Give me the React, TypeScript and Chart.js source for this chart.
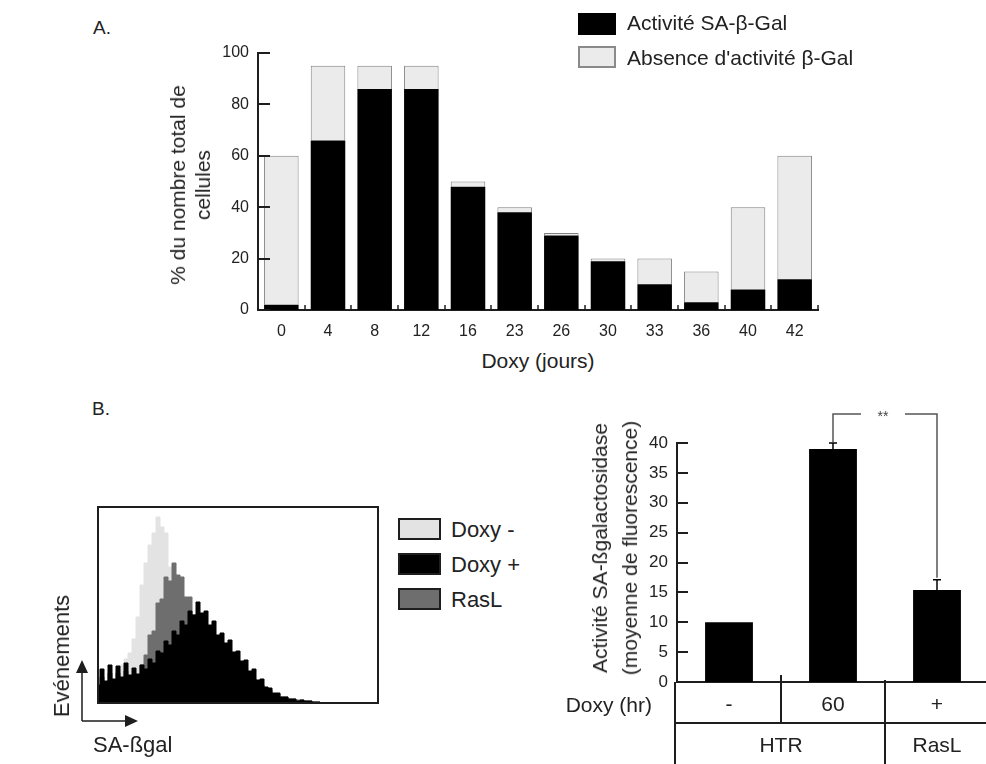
import React, { useEffect, useRef } from "react";
import { Chart, registerables } from "chart.js";
Chart.register(...registerables);

const FONT = "'Liberation Sans', Arial, Helvetica, sans-serif";
const INK = "#1e1e1e";

// ---------- Panel A data ----------
const dayLabels = ["0", "4", "8", "12", "16", "23", "26", "30", "33", "36", "40", "42"];
const activeSA = [2, 66, 86, 86, 48, 38, 29, 19, 10, 3, 8, 12];
const absenceSA = [58, 29, 9, 9, 2, 2, 1, 1, 10, 12, 32, 48];
const yTicksA = [0, 20, 40, 60, 80, 100];

// ---------- Panel B histogram data (channel, events) ----------
const channels = [
  0, 4, 8, 12, 16, 20, 24, 28, 32, 36, 40, 44, 48, 52, 56, 60, 64, 68, 72, 76,
  80, 84, 88, 92, 96, 100, 104, 108, 112, 116, 120, 124, 128, 132, 136, 140, 144, 148, 152, 156,
  160, 164, 168, 172, 176, 180, 184, 188, 192, 196, 200, 204, 208, 212, 216, 220, 224, 228, 232, 236,
  240, 244, 248, 252, 256, 260, 264, 268, 272, 276, 280,
];
const doxyPlus = [
  18, 34, 22, 38, 24, 37, 26, 40, 28, 35, 29, 38, 34, 44, 40, 52, 50, 62, 58, 72,
  68, 82, 78, 92, 88, 101, 90, 92, 78, 82, 68, 70, 60, 63, 51, 52, 42, 43, 32, 34,
  23, 24, 16, 15, 10, 10, 6, 6, 4, 4, 2, 3, 2, 2, 1, 1, 0, 0, 0, 0,
  0, 0, 0, 0, 0, 0, 0, 0, 0, 0, 0,
];
const rasL = [
  14, 26, 18, 30, 20, 30, 22, 32, 24, 28, 28, 38, 48, 68, 72, 100, 104, 126, 122, 140,
  128, 126, 106, 106, 88, 86, 76, 76, 64, 64, 54, 54, 46, 46, 38, 38, 30, 30, 24, 24,
  18, 18, 13, 13, 9, 9, 6, 6, 4, 4, 3, 3, 2, 2, 1, 1, 0, 0, 0, 0,
  0, 0, 0, 0, 0, 0, 0, 0, 0, 0, 0,
];
const doxyMinus = [
  12, 20, 16, 26, 22, 34, 38, 44, 50, 64, 86, 118, 140, 158, 170, 186, 176, 170, 136, 114,
  86, 66, 52, 44, 38, 34, 30, 28, 26, 24, 22, 20, 18, 16, 14, 12, 10, 9, 8, 7,
  6, 5, 4, 3, 2, 2, 1, 1, 1, 0, 0, 0, 0, 0, 0, 0, 0, 0, 0, 0,
  0, 0, 0, 0, 0, 0, 0, 0, 0, 0, 0,
];

// ---------- Panel B bar data ----------
const doxyHr = ["-", "60", "+"];
const meanFluo = [10, 39, 15.4];
const errFluo = [0, 1, 1.7];
const groupNames = ["HTR", "RasL"];
const groupSpans = [2, 1];
const yTicksB = [0, 5, 10, 15, 20, 25, 30, 35, 40];

const pts = (arr: number[]) => channels.map((c, i) => ({ x: c, y: arr[i] }));

export default function App() {
  const refA = useRef<HTMLCanvasElement>(null);
  const refH = useRef<HTMLCanvasElement>(null);
  const refB = useRef<HTMLCanvasElement>(null);

  useEffect(() => {
    const tickFont = (size: number) => ({ family: FONT, size });

    // ----- Panel A -----
    const ticksA = {
      id: "ticksA",
      afterDraw(chart: any) {
        const { ctx, chartArea, scales } = chart;
        const x = scales.x, y = scales.y;
        ctx.save();
        ctx.strokeStyle = INK;
        ctx.lineWidth = 2;
        yTicksA.forEach((v) => {
          const py = Math.round(y.getPixelForValue(v));
          ctx.beginPath();
          ctx.moveTo(chartArea.left, py);
          ctx.lineTo(chartArea.left + 12, py);
          ctx.stroke();
        });
        ctx.lineWidth = 1.5;
        for (let i = 0; i <= dayLabels.length; i++) {
          const px = Math.round(x.getPixelForValue(i - 0.5));
          ctx.beginPath();
          ctx.moveTo(px, chartArea.bottom);
          ctx.lineTo(px, chartArea.bottom - 5);
          ctx.stroke();
        }
        ctx.restore();
      },
    };
    const cA = new Chart(refA.current as HTMLCanvasElement, {
      type: "bar",
      data: {
        labels: dayLabels,
        datasets: [
          { label: "Activité SA-β-Gal", data: activeSA, backgroundColor: "#000", borderWidth: 0, barPercentage: 0.74, categoryPercentage: 1 },
          { label: "Absence d'activité β-Gal", data: absenceSA, backgroundColor: "#ebebeb", borderColor: "#808080", borderWidth: 1, barPercentage: 0.74, categoryPercentage: 1 },
        ],
      },
      options: {
        responsive: false,
        animation: false,
        layout: { padding: { top: 53, right: 32, left: 0, bottom: 0 } },
        plugins: { legend: { display: false }, tooltip: { enabled: false } },
        scales: {
          x: {
            stacked: true,
            grid: { display: false, drawTicks: false },
            border: { display: true, color: INK, width: 2 },
            ticks: { font: tickFont(16), color: "#222", padding: 12 },
            afterFit: (s: any) => { s.height = 35; },
          },
          y: {
            stacked: true,
            min: 0,
            max: 100,
            grid: { display: false, drawTicks: false },
            border: { display: true, color: INK, width: 2 },
            ticks: { stepSize: 20, font: tickFont(16), color: "#222", padding: 9 },
            afterFit: (s: any) => { s.width = 108; },
          },
        },
      } as any,
      plugins: [ticksA],
    });

    // ----- Panel B histogram -----
    const frameH = {
      id: "frameH",
      afterDraw(chart: any) {
        const { ctx, chartArea: a } = chart;
        ctx.save();
        ctx.strokeStyle = INK;
        ctx.lineWidth = 2;
        ctx.strokeRect(a.left, a.top, a.right - a.left, a.bottom - a.top);
        // axis arrows
        const ax = a.left - 16, ay = a.bottom + 18;
        ctx.lineWidth = 1.5;
        ctx.beginPath();
        ctx.moveTo(ax, ay);
        ctx.lineTo(ax, a.bottom - 38);
        ctx.moveTo(ax, ay);
        ctx.lineTo(a.left + 34, ay);
        ctx.stroke();
        ctx.fillStyle = INK;
        ctx.beginPath();
        ctx.moveTo(ax, a.bottom - 43);
        ctx.lineTo(ax - 6, a.bottom - 30);
        ctx.lineTo(ax + 6, a.bottom - 30);
        ctx.closePath();
        ctx.fill();
        ctx.beginPath();
        ctx.moveTo(a.left + 40, ay);
        ctx.lineTo(a.left + 27, ay - 6);
        ctx.lineTo(a.left + 27, ay + 6);
        ctx.closePath();
        ctx.fill();
        ctx.restore();
      },
    };
    const lineDs = (label: string, arr: number[], color: string, order: number) => ({
      label,
      data: pts(arr),
      borderColor: color,
      backgroundColor: color,
      borderWidth: 1,
      pointRadius: 0,
      fill: "origin",
      stepped: "middle",
      order,
    });
    const cH = new Chart(refH.current as HTMLCanvasElement, {
      type: "line",
      data: {
        datasets: [
          lineDs("Doxy +", doxyPlus, "#000000", 1),
          lineDs("RasL", rasL, "#6e6e6e", 2),
          lineDs("Doxy -", doxyMinus, "#e3e3e3", 3),
        ],
      },
      options: {
        responsive: false,
        animation: false,
        layout: { padding: { left: 48, right: 17, top: 7, bottom: 61 } },
        plugins: { legend: { display: false }, tooltip: { enabled: false } },
        scales: {
          x: { type: "linear", min: 0, max: 280, display: false },
          y: { min: 0, max: 196, display: false },
        },
      } as any,
      plugins: [frameH],
    });

    // ----- Panel B bars -----
    const extrasB = {
      id: "extrasB",
      afterDraw(chart: any) {
        const { ctx, chartArea: a, scales, height } = chart;
        const x = scales.x, y = scales.y;
        ctx.save();
        ctx.strokeStyle = INK;
        ctx.fillStyle = "#222";
        // inward y ticks
        ctx.lineWidth = 2;
        yTicksB.forEach((v) => {
          const py = Math.round(y.getPixelForValue(v));
          ctx.beginPath();
          ctx.moveTo(a.left, py);
          ctx.lineTo(a.left + 11, py);
          ctx.stroke();
        });
        // error bars
        ctx.strokeStyle = "#000";
        ctx.lineWidth = 1.5;
        meanFluo.forEach((m, i) => {
          if (!errFluo[i]) return;
          const px = x.getPixelForValue(i);
          const y0 = y.getPixelForValue(m);
          const y1 = y.getPixelForValue(m + errFluo[i]);
          ctx.beginPath();
          ctx.moveTo(px, y0);
          ctx.lineTo(px, y1);
          ctx.moveTo(px - 4, y1);
          ctx.lineTo(px + 4, y1);
          ctx.stroke();
        });
        // significance bracket between "60" and "+"
        const xl = x.getPixelForValue(1), xr = x.getPixelForValue(2);
        const yb = y.getPixelForValue(40) - 29;
        const yl = y.getPixelForValue(meanFluo[1] + errFluo[1]) - 1;
        const yr = y.getPixelForValue(meanFluo[2] + errFluo[2]) - 2;
        const xm = (xl + xr) / 2;
        ctx.strokeStyle = "#555";
        ctx.lineWidth = 1.5;
        ctx.beginPath();
        ctx.moveTo(xl, yl);
        ctx.lineTo(xl, yb);
        ctx.lineTo(xm - 24, yb);
        ctx.moveTo(xm + 20, yb);
        ctx.lineTo(xr, yb);
        ctx.lineTo(xr, yr);
        ctx.stroke();
        ctx.fillStyle = "#444";
        ctx.font = `14px ${FONT}`;
        ctx.textAlign = "center";
        ctx.textBaseline = "middle";
        ctx.fillText("**", xm - 2, yb + 3);
        // table
        ctx.strokeStyle = INK;
        ctx.lineWidth = 2;
        const rowY = a.bottom + 41;
        ctx.beginPath();
        ctx.moveTo(a.left - 2, a.bottom);
        ctx.lineTo(a.left - 2, height);
        ctx.moveTo(a.left - 2, rowY);
        ctx.lineTo(a.right + 5, rowY);
        const b1 = Math.round(x.getPixelForValue(0.5));
        ctx.moveTo(b1, a.bottom - 7);
        ctx.lineTo(b1, rowY);
        const b2 = Math.round(x.getPixelForValue(1.5));
        ctx.moveTo(b2, a.bottom - 2);
        ctx.lineTo(b2, height);
        ctx.stroke();
        ctx.fillStyle = "#222";
        ctx.font = `21px ${FONT}`;
        ctx.textAlign = "right";
        ctx.fillText("Doxy (hr)", a.left - 25, a.bottom + 24);
        ctx.textAlign = "center";
        let start = 0;
        groupNames.forEach((g, gi) => {
          const end = start + groupSpans[gi];
          const gx0 = gi === 0 ? a.left : x.getPixelForValue(start - 0.5);
          const gx1 = x.getPixelForValue(end - 0.5);
          ctx.fillText(g, (gx0 + gx1) / 2, a.bottom + 64);
          start = end;
        });
        ctx.restore();
      },
    };
    const cB = new Chart(refB.current as HTMLCanvasElement, {
      type: "bar",
      data: {
        labels: doxyHr,
        datasets: [
          { label: "Activité SA-ßgalactosidase", data: meanFluo, backgroundColor: "#000", borderWidth: 0, barPercentage: 0.46, categoryPercentage: 1 },
        ],
      },
      options: {
        responsive: false,
        animation: false,
        layout: { padding: { top: 48, right: 3, left: 0, bottom: 0 } },
        plugins: { legend: { display: false }, tooltip: { enabled: false } },
        scales: {
          x: {
            grid: { display: false, drawTicks: false },
            border: { display: true, color: INK, width: 2 },
            ticks: { font: tickFont(21), color: "#222", padding: 11 },
            afterFit: (s: any) => { s.height = 82; },
          },
          y: {
            min: 0,
            max: 40,
            grid: { display: false, drawTicks: false },
            border: { display: true, color: INK, width: 2 },
            ticks: { stepSize: 5, font: tickFont(17), color: "#222", padding: 9 },
            afterFit: (s: any) => { s.width = 117; },
          },
        },
      } as any,
      plugins: [extrasB],
    });

    return () => {
      cA.destroy();
      cH.destroy();
      cB.destroy();
    };
  }, []);

  const abs = (left: number, top: number, w: number, h: number): React.CSSProperties => ({
    position: "absolute", left, top, width: w, height: h,
  });
  const txt = (x: number, y: number, size: number, center = false): React.CSSProperties => ({
    position: "absolute", left: x, top: y, fontSize: size, lineHeight: 1, whiteSpace: "nowrap",
    transform: center ? "translate(-50%, -50%)" : "translateY(-50%)",
  });
  const rot = (x: number, y: number, size: number, lh: number): React.CSSProperties => ({
    position: "absolute", left: x, top: y, fontSize: size, lineHeight: `${lh}px`, whiteSpace: "nowrap",
    textAlign: "center", transform: "translate(-50%, -50%) rotate(-90deg)",
  });
  const box = (left: number, top: number, w: number, h: number, bg: string, border: string, bw: number): React.CSSProperties => ({
    position: "absolute", left, top, width: w - 2 * bw, height: h - 2 * bw, background: bg, border: `${bw}px solid ${border}`,
  });

  return (
    <div style={{ position: "fixed", left: 0, top: 0, width: 986, height: 764, overflow: "hidden", background: "#fff", fontFamily: FONT, color: "#222" }}>
      <canvas ref={refA} width={700} height={345} style={abs(150, 0, 700, 345)} />
      <canvas ref={refH} width={345} height={264} style={abs(50, 500, 345, 264)} />
      <canvas ref={refB} width={432} height={369} style={abs(560, 395, 432, 369)} />

      <div style={txt(93, 27, 19)}>A.</div>
      <div style={txt(92, 408, 19)}>B.</div>

      {/* Panel A legend */}
      <div style={box(578, 13, 38, 22, "#000", "#000", 1)} />
      <div style={box(578, 46, 38, 22, "#ebebeb", "#8a8a8a", 2)} />
      <div style={txt(627, 22, 21)}>Activité SA-β-Gal</div>
      <div style={txt(627, 57, 21)}>Absence d'activité β-Gal</div>

      {/* Panel A axis titles */}
      <div style={rot(190, 185, 21, 25)}>% du nombre total de<br />cellules</div>
      <div style={txt(538, 360, 21, true)}>Doxy (jours)</div>

      {/* Panel B histogram legend & labels */}
      <div style={box(398, 518, 43, 22, "#e3e3e3", INK, 2)} />
      <div style={box(398, 553, 43, 22, "#000", INK, 2)} />
      <div style={box(398, 588, 43, 22, "#6e6e6e", INK, 2)} />
      <div style={txt(451, 530, 22)}>Doxy -</div>
      <div style={txt(451, 565, 22)}>Doxy +</div>
      <div style={txt(451, 600, 22)}>RasL</div>
      <div style={rot(62, 656, 22, 24)}>Evénements</div>
      <div style={txt(93, 745, 22)}>SA-ßgal</div>

      {/* Panel B bar axis title */}
      <div style={rot(615, 548, 21, 30)}>Activité SA-ßgalactosidase<br />(moyenne de fluorescence)</div>
    </div>
  );
}
